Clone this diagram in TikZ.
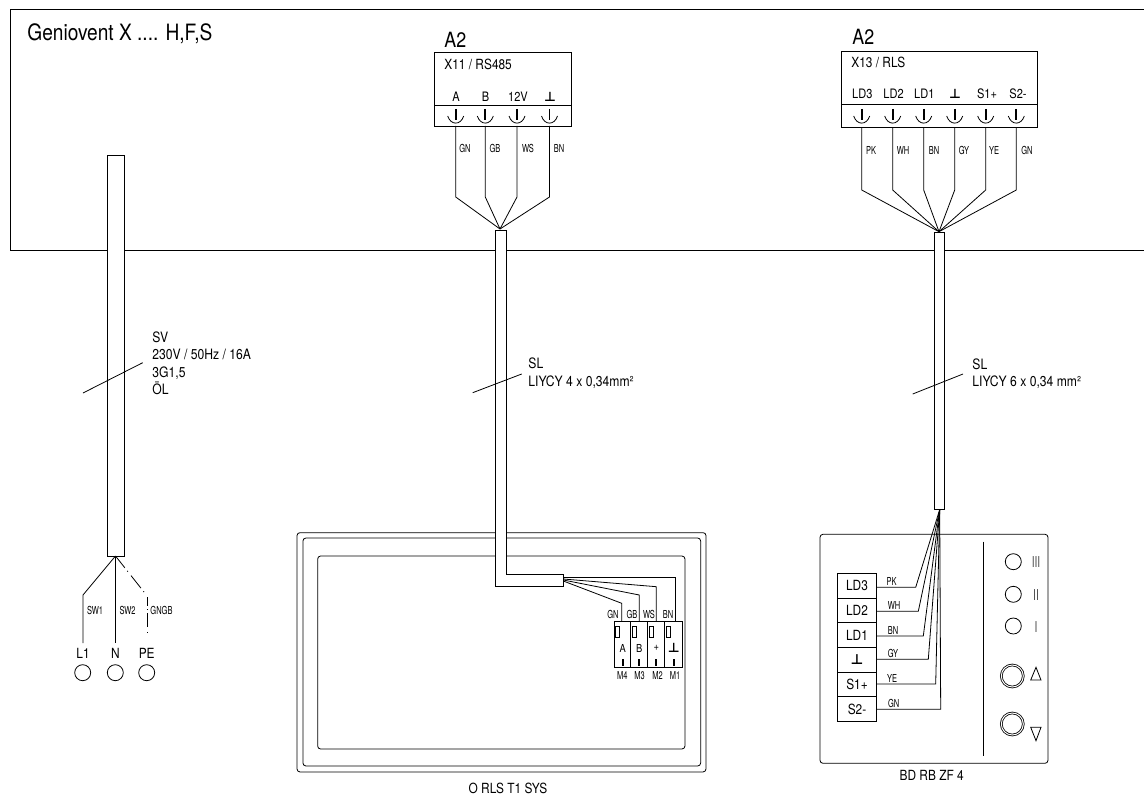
\documentclass[tikz,border=0pt]{standalone}
\usepackage{fontspec}
\setmainfont{TeX Gyre Heros}
\newfontfamily\narrowfont[FakeStretch=0.85]{TeX Gyre Heros}
\newfontfamily\slimfont[FakeStretch=0.68]{TeX Gyre Heros}
\newfontfamily\symfont{DejaVu Sans Bold}
\newcommand{\gnd}{{\symfont ⊥}}
\begin{document}
\begin{tikzpicture}[x=1pt,y=-1pt,line width=0.8pt,
    txt/.style={inner sep=0pt,font=\narrowfont\fontsize{14}{16}\selectfont},
    pinlab/.style={inner sep=0pt,font=\narrowfont\fontsize{13}{15}\selectfont},
    smalllab/.style={inner sep=0pt,font=\narrowfont\fontsize{11}{13}\selectfont},
    wirelab/.style={inner sep=0pt,font=\slimfont\fontsize{11}{13}\selectfont},
    headlab/.style={inner sep=0pt,anchor=west,font=\narrowfont\fontsize{21}{24}\selectfont},
    infolab/.style={inner sep=0pt,anchor=west,align=left,font=\narrowfont\fontsize{14.3}{17.5}\selectfont},
    panel/.style={draw,rounded corners=3pt,inner sep=0pt},
    box/.style={draw,inner sep=0pt},
    cable/.style={draw,fill=white},
    lamp/.style={draw,circle,inner sep=0pt,minimum size=16pt},
    knob/.style={draw,circle,double,double distance=1pt,inner sep=0pt,minimum size=22pt},
    rowcell/.style={draw,inner sep=0pt,minimum width=39.4pt,minimum height=24.65pt,font=\narrowfont\fontsize{14}{16}\selectfont},
    cell/.style={draw,inner sep=0pt,minimum height=46.3pt},
    bar/.style={line width=1.8pt},
    flag/.style={draw,inner sep=0pt,minimum width=4pt,minimum height=11pt},
    levellab/.style={inner sep=0pt,text=black!70,font=\slimfont\fontsize{15}{16}\selectfont},
    terminal/.pic={
        \draw [line width=1.9pt] (0,-7) -- (0,4);
        \draw (-8,0) .. controls (-5,9.5) and (5,9.5) .. (8,0);
    }]
    \useasboundingbox (0,0) rectangle (1144,797);
    % unit frame
    \coordinate (frametop) at (1144,9.3);
    \coordinate (framea) at (10.4,9.3);
    \coordinate (frameb) at (10.4,250);
    \coordinate (framebot) at (1144,250);
    \draw (frametop) -- (framea) -- (frameb) -- (framebot);
    \node [headlab,font=\narrowfont\fontsize{22.5}{26}\selectfont] (title) at (27,34) {Geniovent X .... H,F,S};

    % mains cable
    \node [cable,minimum width=16.6pt,minimum height=401pt,inner sep=0pt] (sv) at (116,355.5) {};
    \node [txt] (lone) at (83,653) {L1};
    \node [txt] (enne) at (115.3,653) {N};
    \node [txt] (pe) at (146.7,653) {PE};
    \node [lamp] (lonec) at (82.7,672.7) {};
    \node [lamp] (ennec) at (115.3,672.7) {};
    \node [lamp] (pec) at (146.7,672.7) {};
    \coordinate (svbot) at (115.5,556);
    \coordinate (lonea) at (83,595);
    \coordinate (loneb) at (83,643);
    \coordinate (enneb) at (115.5,643);
    \coordinate (pea) at (144,592);
    \coordinate (peb) at (147,597);
    \coordinate (pec2) at (147,641);
    \draw (svbot) -- (lonea) -- (loneb);
    \draw (svbot) -- (enneb);
    \draw [dash pattern=on 15pt off 4pt on 1pt off 5pt on 16pt off 4pt] (svbot) -- (pea);
    \draw [dash pattern=on 9pt off 3pt on 1pt off 3pt on 14pt off 5pt on 1pt off 9pt] (peb) -- (pec2);
    \node [wirelab] (swone) at (95,610) {SW1};
    \node [wirelab] (swtwo) at (127.5,610) {SW2};
    \node [wirelab] (gngb) at (161.5,610) {GNGB};
    \coordinate (svta) at (83,393);
    \coordinate (svtb) at (142.7,362.7);
    \draw (svta) -- (svtb);
    \node [infolab] (svinfo) at (152,363.5) {SV\\230V / 50Hz / 16A\\3G1,5\\ÖL};

    % room unit
    \node [panel,minimum width=409pt,minimum height=239.3pt] (outer) at (501.5,652.3) {};
    \node [panel,minimum width=397.7pt,minimum height=228pt] (middle) at (501.8,652) {};
    \node [panel,minimum width=367.3pt,minimum height=193pt] (inner) at (501.3,652.5) {};
    \node [txt] (ortname) at (508,788.5) {O RLS T1 SYS};

    % first A2 box
    \node [headlab] (atwol) at (444,40) {A2};
    \node [box,minimum width=137pt,minimum height=53pt] (xupper) at (502.5,78.5) {};
    \node [box,minimum width=137pt,minimum height=21pt] (xlower) at (502.5,115.5) {};
    \node [txt,anchor=west] (xname) at (444,64) {X11 / RS485};
    \node [pinlab] (pa) at (456,97) {A};
    \node [pinlab] (pb) at (485.5,97) {B};
    \node [pinlab] (ptw) at (518,97) {12V};
    \node [pinlab] (pg) at (550,97) {\gnd};
    \pic at (455.7,116) {terminal};
    \pic at (485.3,116) {terminal};
    \pic at (517,116) {terminal};
    \pic at (549.5,116) {terminal};
    \coordinate (fanl) at (500,229);
    \coordinate (wa) at (455.7,126);
    \coordinate (wb) at (485.3,126);
    \coordinate (wc) at (517,126);
    \coordinate (wd) at (549.5,126);
    \coordinate (waa) at (455.7,197);
    \coordinate (wbb) at (485.3,197);
    \coordinate (wcc) at (517,197);
    \coordinate (wdd) at (549.5,197);
    \draw (wa) -- (waa) -- (fanl);
    \draw (wb) -- (wbb) -- (fanl);
    \draw (wc) -- (wcc) -- (fanl);
    \draw (wd) -- (wdd) -- (fanl);
    \node [wirelab] (la) at (465,148) {GN};
    \node [wirelab] (lb) at (495,148) {GB};
    \node [wirelab] (lc) at (528,148) {WS};
    \node [wirelab] (ld) at (559,148) {BN};

    % bus cable to room unit
    \coordinate (ca) at (495,230);
    \coordinate (cb) at (506.7,230);
    \coordinate (cc) at (506.7,574);
    \coordinate (cd) at (563.3,574);
    \coordinate (ce) at (563.3,586);
    \coordinate (cf) at (495,586);
    \coordinate (cta) at (472.7,392.7);
    \coordinate (ctb) at (521.7,374);
    \draw [cable] (ca) -- (cb) -- (cc) -- (cd) -- (ce) -- (cf) -- cycle;
    \draw (cta) -- (ctb);
    \node [infolab] (slinfo) at (528,373.3) {SL\\LIYCY 4 x 0,34mm²};

    % connector on room unit
    \node [cell,minimum width=16.4pt] (mfour) at (622.5,644.2) {};
    \node [cell,minimum width=16.6pt] (mthree) at (639,644.2) {};
    \node [cell,minimum width=17pt] (mtwo) at (655.8,644.2) {};
    \node [cell,minimum width=18.4pt] (mone) at (673.5,644.2) {};
    \node [flag] (fa) at (617.3,631.5) {};
    \node [flag] (fb) at (634,631.5) {};
    \node [flag] (fc) at (651,631.5) {};
    \node [flag] (fd) at (668,631.5) {};
    \node [smalllab] (sa) at (622.7,648) {A};
    \node [smalllab] (sb) at (639.3,648) {B};
    \node [smalllab] (sc) at (656.3,648) {+};
    \node [pinlab] (sd) at (673.7,648) {\gnd};
    \draw [bar] (622.7,659) -- (622.7,666);
    \draw [bar] (639.3,659) -- (639.3,666);
    \draw [bar] (656.3,659) -- (656.3,666);
    \draw [bar] (673.7,659) -- (673.7,666);
    \node [wirelab] (ma) at (622.3,675.7) {M4};
    \node [wirelab] (mb) at (639.5,675.7) {M3};
    \node [wirelab] (mc) at (657.5,675.7) {M2};
    \node [wirelab] (md) at (675,675.7) {M1};
    \coordinate (ga) at (563.3,581);
    \coordinate (gb) at (563.3,580);
    \coordinate (gc) at (563.3,579);
    \coordinate (gd) at (563.3,577.7);
    \coordinate (gaa) at (621.7,603.3);
    \coordinate (gbb) at (639.3,595);
    \coordinate (gcc) at (656.3,586.7);
    \coordinate (gdd) at (675.7,577.7);
    \coordinate (gae) at (621.7,621);
    \coordinate (gbe) at (639.3,621);
    \coordinate (gce) at (656.3,621);
    \coordinate (gde) at (675.7,621);
    \draw (ga) -- (gaa) -- (gae);
    \draw (gb) -- (gbb) -- (gbe);
    \draw (gc) -- (gcc) -- (gce);
    \draw (gd) -- (gdd) -- (gde);
    \node [wirelab] (ga2) at (613,614) {GN};
    \node [wirelab] (gb2) at (632,614) {GB};
    \node [wirelab] (gc2) at (649,614) {WS};
    \node [wirelab] (gd2) at (668,614) {BN};

    % second A2 box
    \node [headlab] (atwor) at (852,36.7) {A2};
    \node [box,minimum width=196.3pt,minimum height=52.6pt] (yupper) at (939.2,78) {};
    \node [box,minimum width=196.3pt,minimum height=23pt] (ylower) at (939.2,115.8) {};
    \node [txt,anchor=west] (yname) at (851,62.7) {X13 / RLS};
    \node [pinlab] (qa) at (862.3,94) {LD3};
    \node [pinlab] (qb) at (893.6,94) {LD2};
    \node [pinlab] (qc) at (924.3,94) {LD1};
    \node [pinlab] (qd) at (955,94) {\gnd};
    \node [pinlab] (qe) at (987,94) {S1+};
    \node [pinlab] (qf) at (1018,94) {S2-};
    \pic at (861.7,116) {terminal};
    \pic at (892.7,116) {terminal};
    \pic at (923.7,116) {terminal};
    \pic at (954.7,116) {terminal};
    \pic at (985.7,116) {terminal};
    \pic at (1016.3,116) {terminal};
    \coordinate (fanr) at (939,231.7);
    \coordinate (ra) at (861.7,127.3);
    \coordinate (rb) at (892.7,127.3);
    \coordinate (rc) at (923.7,127.3);
    \coordinate (rd) at (954.7,127.3);
    \coordinate (re) at (985.7,127.3);
    \coordinate (rf) at (1016.3,127.3);
    \coordinate (raa) at (861.7,190);
    \coordinate (rbb) at (892.7,190);
    \coordinate (rcc) at (923.7,190);
    \coordinate (rdd) at (954.7,190);
    \coordinate (ree) at (985.7,190);
    \coordinate (rff) at (1016.3,190);
    \draw (ra) -- (raa) -- (fanr);
    \draw (rb) -- (rbb) -- (fanr);
    \draw (rc) -- (rcc) -- (fanr);
    \draw (rd) -- (rdd) -- (fanr);
    \draw (re) -- (ree) -- (fanr);
    \draw (rf) -- (rff) -- (fanr);
    \node [wirelab] (lra) at (871,150.7) {PK};
    \node [wirelab] (lrb) at (903,150.7) {WH};
    \node [wirelab] (lrc) at (934,150.7) {BN};
    \node [wirelab] (lrd) at (964,150.7) {GY};
    \node [wirelab] (lre) at (994,150.7) {YE};
    \node [wirelab] (lrf) at (1027,150.7) {GN};

    % remote control
    \node [panel,minimum width=228pt,minimum height=229pt] (bd) at (934,648.8) {};
    \node [txt] (bdname) at (931.7,775.7) {BD RB ZF 4};
    \coordinate (diva) at (983.3,541.7);
    \coordinate (divb) at (983.3,756);
    \draw (diva) -- (divb);
    \node [rowcell] (ldthree) at (857,585.7) {LD3};
    \node [rowcell] (ldtwo) at (857,610.3) {LD2};
    \node [rowcell] (ldone) at (857,635) {LD1};
    \node [rowcell] (earth) at (857,659.7) {\gnd};
    \node [rowcell] (sone) at (857,684.3) {S1+};
    \node [rowcell] (stwo) at (857,709) {S2-};
    \coordinate (fanb) at (939.7,509.5);
    \coordinate (ka) at (915.7,587.3);
    \coordinate (kb) at (918.3,611.3);
    \coordinate (kc) at (923.3,636);
    \coordinate (kd) at (928.3,659.3);
    \coordinate (ke) at (935.7,684);
    \coordinate (kf) at (940.7,709.3);
    \draw (ldthree.east |- ka) -- (ka) -- (fanb);
    \draw (ldtwo.east |- kb) -- (kb) -- (fanb);
    \draw (ldone.east |- kc) -- (kc) -- (fanb);
    \draw (earth.east |- kd) -- (kd) -- (fanb);
    \draw (sone.east |- ke) -- (ke) -- (fanb);
    \draw (stwo.east |- kf) -- (kf) -- (fanb);
    \node [wirelab] (ta) at (891.7,581.7) {PK};
    \node [wirelab] (tb) at (894,605.3) {WH};
    \node [wirelab] (tc) at (893,630) {BN};
    \node [wirelab] (td) at (893,653) {GY};
    \node [wirelab] (te) at (892,678) {YE};
    \node [wirelab] (tf) at (893.7,703) {GN};
    \node [lamp] (lthree) at (1013.3,561.7) {};
    \node [lamp] (ltwo) at (1013.3,594.3) {};
    \node [lamp] (lonel) at (1013.3,626) {};
    \node [levellab] (nthree) at (1036,562.5) {III};
    \node [levellab] (ntwo) at (1036,595.5) {II};
    \node [levellab] (nones) at (1036,626.7) {I};
    \node [knob] (up) at (1012.3,676) {};
    \node [knob] (down) at (1012.3,724) {};
    \coordinate (ua) at (1030.7,680);
    \coordinate (ub) at (1041,680);
    \coordinate (uc) at (1036,667.3);
    \coordinate (da) at (1030.7,727.3);
    \coordinate (db) at (1041,727.3);
    \coordinate (dc) at (1036,740.7);
    \draw (ua) -- (ub) -- (uc) -- cycle;
    \draw (da) -- (db) -- (dc) -- cycle;

    % bus cable to remote control
    \coordinate (ra2) at (934.3,232.7);
    \coordinate (rb2) at (944.5,509.3);
    \coordinate (rta) at (912.7,394);
    \coordinate (rtb) at (963,374);
    \draw [cable] (ra2) rectangle (rb2);
    \draw (rta) -- (rtb);
    \node [infolab] (slinfor) at (972,373.5) {SL\\LIYCY 6 x 0,34 mm²};
\end{tikzpicture}
\end{document}
